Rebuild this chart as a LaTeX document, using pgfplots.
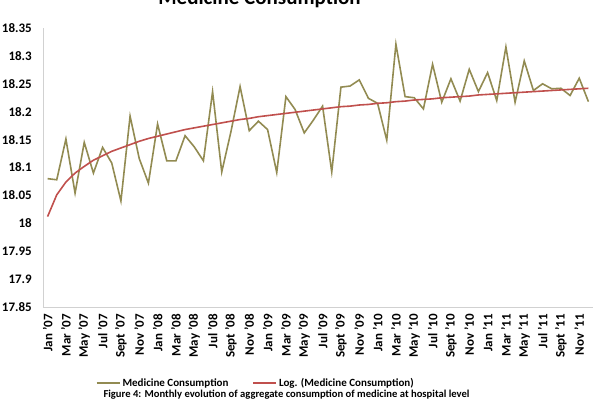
\documentclass[border=0pt]{standalone}
\usepackage{pgfplots}
\pgfplotsset{compat=1.18}
\usepackage{fontspec}
\setmainfont{Carlito}
\definecolor{olivel}{RGB}{146,139,82}
\definecolor{trendred}{RGB}{192,80,77}
\begin{document}
\begin{tikzpicture}[x=1pt,y=1pt]
\begin{axis}[
  scale only axis, width=550pt, height=279pt,
  xmin=-0.5, xmax=59.5, ymin=17.85, ymax=18.35,
  axis x line*=bottom, axis y line*=left,
  axis line style={draw=black!18, line width=0.9pt},
  major tick length=0pt,
  xtick={0,2,...,58},
  xticklabels={Jan '07,Mar '07,May '07,Jul '07,Sept '07,Nov '07,
               Jan '08,Mar '08,May '08,Jul '08,Sept '08,Nov '08,
               Jan '09,Mar '09,May '09,Jul '09,Sept '09,Nov '09,
               Jan '10,Mar '10,May '10,Jul '10,Sept '10,Nov '10,
               Jan '11,Mar '11,May '11,Jul '11,Sept '11,Nov '11},
  ytick={17.85,17.9,17.95,18,18.05,18.1,18.15,18.2,18.25,18.3,18.35},
  yticklabels={17.85,17.9,17.95,18,18.05,18.1,18.15,18.2,18.25,18.3,18.35},
  tick label style={font=\bfseries\fontsize{13}{13}\selectfont},
  xticklabel style={rotate=90, anchor=east, inner sep=0pt, xshift=-7pt},
  yticklabel style={anchor=east, inner sep=0pt, xshift=-11pt},
  legend columns=2,
  legend style={at={(0.387,-0.272)}, anchor=center, draw=none, fill=none,
    font=\bfseries\fontsize{11}{11}\selectfont,
    /tikz/every even column/.append style={column sep=22pt}},
  legend image code/.code={\draw[#1] (0pt,0pt) -- (23pt,0pt);},
]
\addplot[color=olivel, line width=1.6pt, mark=none] coordinates {
(0,18.080) (1,18.078) (2,18.151) (3,18.054) (4,18.145) (5,18.090)
(6,18.136) (7,18.108) (8,18.040) (9,18.192) (10,18.116) (11,18.072)
(12,18.178) (13,18.112) (14,18.112) (15,18.157) (16,18.137) (17,18.112)
(18,18.236) (19,18.092) (20,18.164) (21,18.245) (22,18.166) (23,18.183)
(24,18.168) (25,18.091) (26,18.227) (27,18.204) (28,18.162) (29,18.185)
(30,18.210) (31,18.092) (32,18.244) (33,18.246) (34,18.257) (35,18.224)
(36,18.215) (37,18.149) (38,18.321) (39,18.227) (40,18.225) (41,18.205)
(42,18.285) (43,18.217) (44,18.259) (45,18.219) (46,18.276) (47,18.236)
(48,18.270) (49,18.220) (50,18.316) (51,18.217) (52,18.291) (53,18.238)
(54,18.250) (55,18.241) (56,18.242) (57,18.229) (58,18.260) (59,18.218)
};
\addlegendentry{Medicine Consumption}
\addplot[color=trendred, line width=1.6pt, mark=none] coordinates {
(0,18.012) (1,18.051) (2,18.074) (3,18.090) (4,18.102) (5,18.113)
(6,18.121) (7,18.129) (8,18.135) (9,18.141) (10,18.147) (11,18.152)
(12,18.156) (13,18.160) (14,18.164) (15,18.168) (16,18.171) (17,18.174)
(18,18.177) (19,18.180) (20,18.183) (21,18.186) (22,18.188) (23,18.191)
(24,18.193) (25,18.195) (26,18.197) (27,18.199) (28,18.201) (29,18.203)
(30,18.205) (31,18.207) (32,18.209) (33,18.210) (34,18.212) (35,18.213)
(36,18.215) (37,18.216) (38,18.218) (39,18.219) (40,18.221) (41,18.222)
(42,18.223) (43,18.225) (44,18.226) (45,18.227) (46,18.228) (47,18.230)
(48,18.231) (49,18.232) (50,18.233) (51,18.234) (52,18.235) (53,18.236)
(54,18.237) (55,18.238) (56,18.239) (57,18.240) (58,18.241) (59,18.242)
};
\addlegendentry{Log. (Medicine Consumption)}
\end{axis}
\node[font=\bfseries\fontsize{21}{21}\selectfont, anchor=base] at (216.5,302) {Medicine Consumption};
\node[font=\bfseries\fontsize{10.6}{10.6}\selectfont] at (243.5,-87.5) {Figure 4: Monthly evolution of aggregate consumption of medicine at hospital level};
\pgfresetboundingbox
\path[use as bounding box] (-43,-105) rectangle (561,307);
\end{tikzpicture}
\end{document}
